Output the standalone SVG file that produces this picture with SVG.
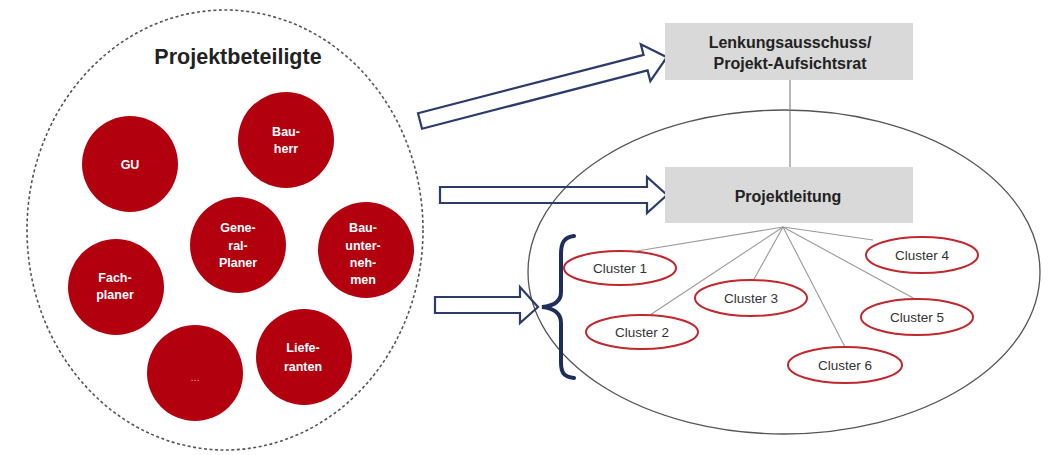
<svg xmlns="http://www.w3.org/2000/svg" width="1054" height="455" viewBox="0 0 1054 455">
  <style>
    .party { fill: #b3000f; }
    .party-label { font-family: "Liberation Sans", Arial, sans-serif; font-size: 12.5px; font-weight: bold; fill: #ffffff; text-anchor: middle; }
    .box { fill: #d9d9d9; }
    .box-label { font-family: "Liberation Sans", Arial, sans-serif; font-size: 16px; font-weight: bold; fill: #222222; text-anchor: middle; }
    .cluster { fill: #ffffff; stroke: #c0282d; stroke-width: 2; }
    .cluster-label { font-family: "Liberation Sans", Arial, sans-serif; font-size: 13.5px; fill: #333333; text-anchor: middle; }
    .block-arrow { fill: none; stroke: #2b3b6b; stroke-width: 2.2; stroke-linejoin: miter; }
    .fan { stroke: #9a9a9a; stroke-width: 1.1; fill: none; }
  </style>

  <rect width="1054" height="455" fill="#ffffff"/>

  <!-- participant pool -->
  <g id="pool">
    <ellipse cx="225" cy="230" rx="198" ry="220" fill="none" stroke="#555555" stroke-width="1.6" stroke-dasharray="3 2.5"/>
    <text x="238" y="64" font-family="Liberation Sans, Arial, sans-serif" font-size="21.5" font-weight="bold" fill="#222222" text-anchor="middle">Projektbeteiligte</text>
  </g>

  <!-- project organisation area -->
  <g id="organisation">
    <ellipse cx="784" cy="272" rx="256" ry="162" fill="none" stroke="#555555" stroke-width="1.3"/>
  </g>

  <g id="connectors">
    <!-- block arrows from the pool to the organisation -->
    <polygon class="block-arrow" transform="translate(420 121) rotate(-14.5)" points="0,-8 233,-8 233,-19 255,0 233,19 233,8 0,8"/>
    <polygon class="block-arrow" points="440,187 647,187 647,177 667,195 647,213 647,203 440,203"/>
    <polygon class="block-arrow" points="435,297 520,297 520,287 538,307 520,323 520,313 435,313"/>
    <!-- hierarchy line -->
    <line x1="790" y1="80" x2="790" y2="167" stroke="#888888" stroke-width="1.2"/>
    <!-- fan from project lead to clusters -->
    <line class="fan" x1="783" y1="227" x2="637" y2="251"/>
    <line class="fan" x1="783" y1="227" x2="650" y2="315"/>
    <line class="fan" x1="783" y1="227" x2="753" y2="281"/>
    <line class="fan" x1="783" y1="227" x2="873" y2="240"/>
    <line class="fan" x1="783" y1="227" x2="915" y2="299"/>
    <line class="fan" x1="783" y1="227" x2="845" y2="347"/>
    <!-- brace grouping the clusters -->
    <path d="M 574 236 C 564 237 561 243 561 254 L 561 292 C 561 302 553 306 542 307 C 553 308 561 313 561 323 L 561 362 C 561 373 564 377 574 378" fill="none" stroke="#1f2d5c" stroke-width="4" stroke-linecap="round"/>
  </g>

  <!-- parties -->
  <g id="gu">
    <circle class="party" cx="130" cy="164" r="48"/>
    <text class="party-label" x="130" y="169">GU</text>
  </g>
  <g id="bauherr">
    <circle class="party" cx="286" cy="140" r="48"/>
    <text class="party-label" x="286" y="136">Bau-</text>
    <text class="party-label" x="286" y="153">herr</text>
  </g>
  <g id="generalplaner">
    <circle class="party" cx="238" cy="245" r="48"/>
    <text class="party-label" x="238" y="232">Gene-</text>
    <text class="party-label" x="238" y="250">ral-</text>
    <text class="party-label" x="238" y="267">Planer</text>
  </g>
  <g id="bauunternehmen">
    <circle class="party" cx="366" cy="250" r="48"/>
    <text class="party-label" x="363" y="232">Bau-</text>
    <text class="party-label" x="363" y="250">unter-</text>
    <text class="party-label" x="363" y="267">neh-</text>
    <text class="party-label" x="363" y="284">men</text>
  </g>
  <g id="fachplaner">
    <circle class="party" cx="116" cy="287" r="48"/>
    <text class="party-label" x="115" y="282">Fach-</text>
    <text class="party-label" x="115" y="299">planer</text>
  </g>
  <g id="weitere">
    <circle class="party" cx="195" cy="373" r="48"/>
    <text x="195" y="381" font-family="Liberation Sans, Arial, sans-serif" font-size="11" fill="#e8a0a6" text-anchor="middle">...</text>
  </g>
  <g id="lieferanten">
    <circle class="party" cx="304" cy="357" r="48"/>
    <text class="party-label" x="303" y="352">Liefe-</text>
    <text class="party-label" x="303" y="371">ranten</text>
  </g>

  <!-- governance boxes -->
  <g id="lenkungsausschuss">
    <rect class="box" x="665" y="23" width="248" height="57"/>
    <text class="box-label" x="790" y="48">Lenkungsausschuss/</text>
    <text class="box-label" x="790" y="69">Projekt-Aufsichtsrat</text>
  </g>
  <g id="projektleitung">
    <rect class="box" x="665" y="167" width="248" height="56"/>
    <text class="box-label" x="788" y="202" font-size="16.5">Projektleitung</text>
  </g>

  <!-- clusters -->
  <g id="cluster1">
    <ellipse class="cluster" cx="620" cy="268" rx="56" ry="17"/>
    <text class="cluster-label" x="620" y="273">Cluster 1</text>
  </g>
  <g id="cluster2">
    <ellipse class="cluster" cx="642" cy="332" rx="56" ry="17"/>
    <text class="cluster-label" x="642" y="337">Cluster 2</text>
  </g>
  <g id="cluster3">
    <ellipse class="cluster" cx="751" cy="298" rx="56" ry="18"/>
    <text class="cluster-label" x="751" y="303">Cluster 3</text>
  </g>
  <g id="cluster4">
    <ellipse class="cluster" cx="922" cy="255" rx="56" ry="18"/>
    <text class="cluster-label" x="922" y="260">Cluster 4</text>
  </g>
  <g id="cluster5">
    <ellipse class="cluster" cx="917" cy="317" rx="56" ry="18"/>
    <text class="cluster-label" x="917" y="322">Cluster 5</text>
  </g>
  <g id="cluster6">
    <ellipse class="cluster" cx="845" cy="365" rx="57" ry="18"/>
    <text class="cluster-label" x="845" y="370">Cluster 6</text>
  </g>
</svg>
